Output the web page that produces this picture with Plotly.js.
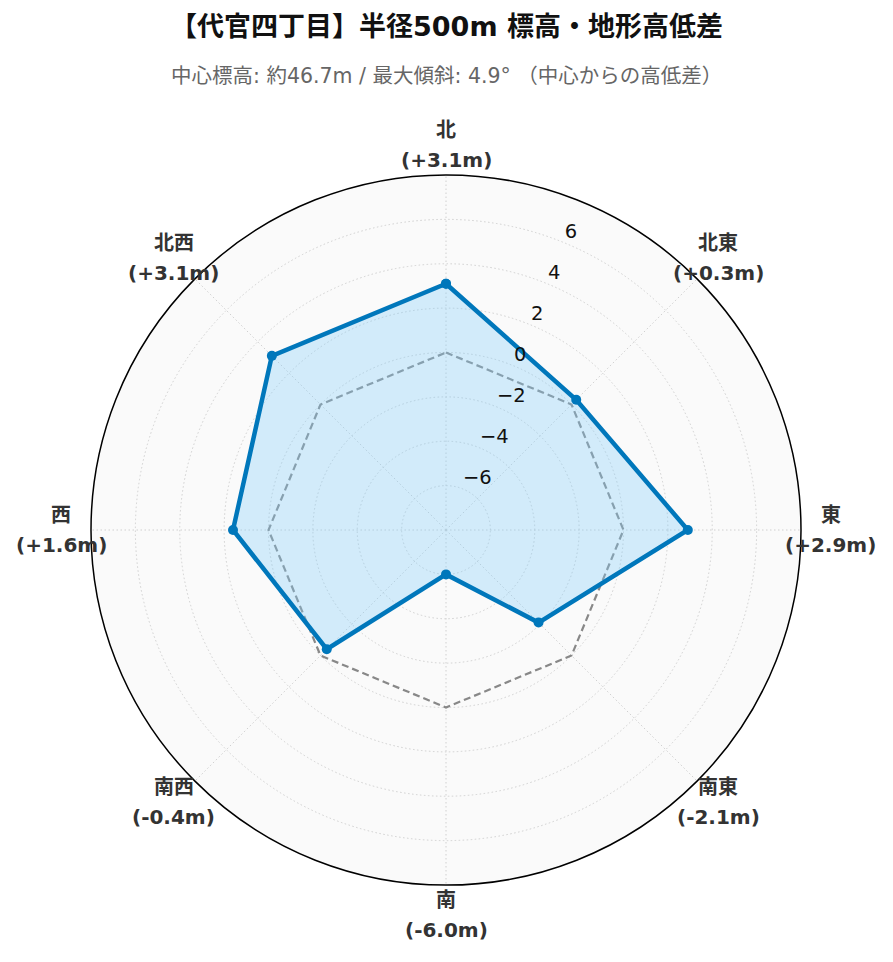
<!DOCTYPE html>
<html>
<head>
<meta charset="utf-8">
<script src="https://cdn.plot.ly/plotly-3.0.1.min.js"></script>
<style>html,body{margin:0;padding:0;background:#fff;}#chart{width:893px;height:962px;}</style>
</head>
<body>
<div id="chart"></div>
<script>
const directions = ["北", "北東", "東", "南東", "南", "南西", "西", "北西"];
const angles = [0, 45, 90, 135, 180, 225, 270, 315];
const diffs = [3.1, 0.3, 2.9, -2.1, -6.0, -0.4, 1.6, 3.1];
const reference = [0, 0, 0, 0, 0, 0, 0, 0];
const radialTicks = [-6, -4, -2, 0, 2, 4, 6];
const radialRange = [-8, 8];
const tickLabelAngle = 22.5;

const fmt = v => "(" + (v >= 0 ? "+" : "") + v.toFixed(1) + "m)";
const tickFmt = v => (v < 0 ? "\u2212" + Math.abs(v) : String(v));
const closeLoop = a => a.concat([a[0]]);

const font = "DejaVu Sans, Noto Sans CJK JP, sans-serif";

// label placement around the polar area (paper units, polar domain is the unit square)
const labelDist = 0.542;
const labelFont = {family: font, size: 20, color: "#333333"};

const traces = [
  {
    type: "scatterpolar",
    r: closeLoop(reference),
    theta: closeLoop(angles),
    mode: "lines",
    line: {color: "#888888", width: 2.2, dash: "7px,4px"},
    hoverinfo: "skip"
  },
  {
    type: "scatterpolar",
    r: closeLoop(diffs),
    theta: closeLoop(angles),
    mode: "lines+markers",
    fill: "toself",
    fillcolor: "rgba(135,206,250,0.35)",
    line: {color: "#0077bb", width: 4.5},
    marker: {color: "#0077bb", size: 10}
  },
  {
    type: "scatterpolar",
    r: radialTicks,
    theta: radialTicks.map(() => tickLabelAngle),
    mode: "text",
    text: radialTicks.map(tickFmt),
    textposition: "top right",
    textfont: {family: font, size: 19.5, color: "#111111"},
    cliponaxis: false,
    hoverinfo: "skip"
  }
];

const annotations = [{
  text: "中心標高: 約46.7m / 最大傾斜: 4.9° （中心からの高低差）",
  xref: "paper", yref: "paper",
  x: 0.5, y: 1.139,
  xanchor: "center", yanchor: "middle",
  showarrow: false,
  font: {family: font, size: 20.5, color: "#666666"}
}];

angles.forEach((a, i) => {
  const rad = a * Math.PI / 180;
  const x = 0.5 + labelDist * Math.sin(rad);
  const y = 0.5 + labelDist * Math.cos(rad);
  annotations.push({
    text: "<b>" + directions[i] + "</b>",
    xref: "paper", yref: "paper", x: x, y: y,
    xanchor: "center", yanchor: "middle", yshift: 15,
    showarrow: false, font: labelFont
  });
  annotations.push({
    text: "<b>" + fmt(diffs[i]) + "</b>",
    xref: "paper", yref: "paper", x: x, y: y,
    xanchor: "center", yanchor: "middle", yshift: -15,
    showarrow: false, font: labelFont
  });
});

const layout = {
  width: 893,
  height: 962,
  paper_bgcolor: "#ffffff",
  font: {family: font, color: "#333333"},
  margin: {l: 91, r: 92, t: 175, b: 77},
  showlegend: false,
  title: {
    text: "<b>【代官四丁目】半径500m 標高・地形高低差</b>",
    x: 0.5,
    xanchor: "center",
    y: 0.972,
    yanchor: "middle",
    font: {family: font, size: 27, color: "#111111"}
  },
  annotations: annotations,
  polar: {
    domain: {x: [0, 1], y: [0, 1]},
    bgcolor: "#fafafa",
    angularaxis: {
      rotation: 90,
      direction: "clockwise",
      tickmode: "array",
      tickvals: angles,
      showticklabels: false,
      showline: true,
      linecolor: "#000000",
      linewidth: 1.5,
      gridcolor: "#d0d0d0",
      griddash: "1.5px,2.5px",
      ticks: ""
    },
    radialaxis: {
      range: radialRange,
      tickmode: "array",
      tickvals: radialTicks,
      showticklabels: false,
      angle: 90 - tickLabelAngle,
      showline: false,
      ticks: "",
      gridcolor: "#d0d0d0",
      griddash: "1.5px,2.5px"
    }
  }
};

Plotly.newPlot("chart", traces, layout, {displayModeBar: false});
</script>
</body>
</html>
